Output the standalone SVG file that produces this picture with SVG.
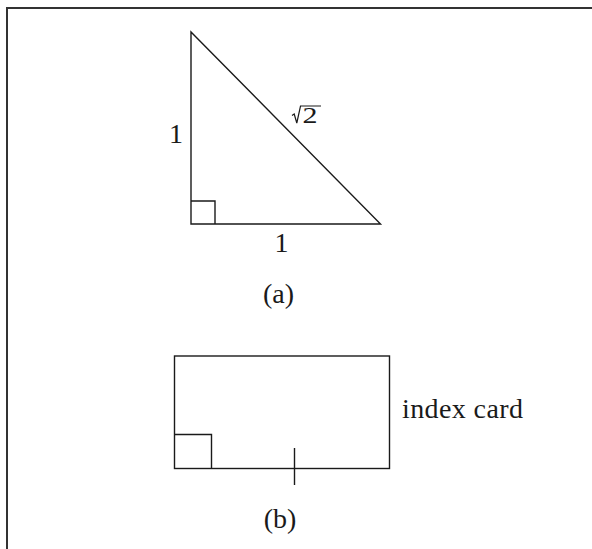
<svg xmlns="http://www.w3.org/2000/svg" width="592" height="549" viewBox="0 0 592 549">
<style>
.ln{fill:none;stroke:#1a1a1a;stroke-width:1.4}
.fr{fill:none;stroke:#333;stroke-width:2}
.t{font-family:"Liberation Serif","Times New Roman",serif;font-size:28px;fill:#1a1a1a}
</style>
<rect width="592" height="549" fill="#fff"/>
<path class="fr" d="M7,549 V8 H592"/>
<g id="triangle">
<path class="ln" d="M191,32 L191,224 L380.5,224 Z"/>
<path class="ln" d="M191,201 H215 V224"/>
<text class="t" x="176" y="143" text-anchor="middle">1</text>
<text class="t" x="281.5" y="252" text-anchor="middle">1</text>
<path class="ln" d="M292,115.5 L294.2,114 L296.8,123 L300.5,106 H321" style="stroke-width:1.2"/>
<text class="t" x="302.5" y="122.7" style="font-size:22.5px" textLength="15" lengthAdjust="spacingAndGlyphs">2</text>
<text class="t" x="278.5" y="303" text-anchor="middle">(a)</text>
</g>
<g id="card">
<rect class="ln" x="174.5" y="356" width="215" height="112.5"/>
<path class="ln" d="M174.5,434.5 H211.5 V468.5"/>
<path class="ln" d="M294.5,448 V485"/>
<text class="t" x="402" y="418" textLength="121">index card</text>
<text class="t" x="280" y="528" text-anchor="middle">(b)</text>
</g>
</svg>
